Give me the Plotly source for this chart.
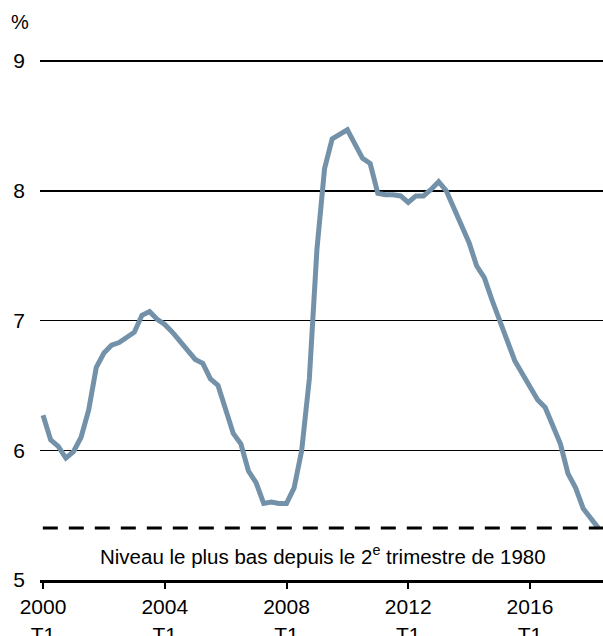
import plotly.graph_objects as go

# Quarterly periods 2000 T1 .. 2018 T2
start_year = 2000
n_quarters = 74
quarters = [f"{start_year + i // 4} T{i % 4 + 1}" for i in range(n_quarters)]

rate = [
    6.27, 6.08, 6.03, 5.94, 5.99, 6.10, 6.31, 6.64, 6.75, 6.81,
    6.83, 6.87, 6.91, 7.04, 7.07, 7.01, 6.97, 6.91, 6.84, 6.77,
    6.70, 6.67, 6.55, 6.50, 6.30, 6.13, 6.05, 5.84, 5.75, 5.59,
    5.60, 5.59, 5.59, 5.71, 6.00, 6.55, 7.55, 8.17, 8.40, 8.44,
    8.47, 8.36, 8.25, 8.21, 7.98, 7.97, 7.97, 7.96, 7.91, 7.96,
    7.96, 8.01, 8.07, 8.00, 7.86, 7.72, 7.60, 7.42, 7.33, 7.16,
    7.01, 6.85, 6.69, 6.59, 6.48, 6.39, 6.33, 6.19, 6.05, 5.82,
    5.71, 5.55, 5.48, 5.40,
]

record_low = 5.4
record_low_label = "Niveau le plus bas depuis le 2<sup>e</sup> trimestre de 1980"

tick_years = [2000, 2004, 2008, 2012, 2016]
tick_labels = [f"{y}<br>T1" for y in tick_years]
tick_idx = [quarters.index(f"{y} T1") for y in tick_years]

y_ticks = [5, 6, 7, 8, 9]

x_idx = list(range(n_quarters))

FONT = "Liberation Sans, Arial, sans-serif"

fig = go.Figure()
fig.add_trace(go.Scatter(
    x=x_idx, y=rate, mode="lines",
    line=dict(color="#7391a8", width=5),
    hoverinfo="skip", showlegend=False,
))

fig.add_shape(
    type="line", xref="paper", yref="y",
    x0=0.005, x1=1, y0=record_low, y1=record_low,
    line=dict(color="black", width=3, dash="15px,11px"),
)

fig.add_annotation(
    xref="paper", yref="y", x=0.503, y=5.19,
    text=record_low_label, showarrow=False,
    font=dict(family=FONT, size=20.5, color="black"),
    xanchor="center", yanchor="middle",
)

fig.add_annotation(
    xref="paper", yref="paper", x=-0.036, y=1.073,
    text="%", showarrow=False,
    font=dict(family=FONT, size=20, color="black"),
    xanchor="center", yanchor="middle",
)

fig.update_layout(
    width=603, height=636,
    margin=dict(l=40, r=0, t=60, b=56, autoexpand=False),
    paper_bgcolor="white", plot_bgcolor="white",
    font=dict(family=FONT, size=21, color="black"),
    showlegend=False,
)

fig.update_xaxes(
    range=[-0.4, 73.6],
    tickvals=tick_idx, ticktext=tick_labels,
    showgrid=False, zeroline=False, automargin=False,
    showline=True, linecolor="black", linewidth=3,
    ticks="outside", ticklen=6, tickwidth=2, tickcolor="black",
    tickfont=dict(family=FONT, size=21, color="black"),
)

fig.update_yaxes(
    range=[5, 9.008], automargin=False,
    tickvals=y_ticks, ticktext=[str(v) for v in y_ticks],
    showgrid=True, gridcolor="black", gridwidth=1.5,
    zeroline=False, showline=False, ticks="",
    ticklabelstandoff=14,
    tickfont=dict(family=FONT, size=21, color="black"),
)

fig.write_html(
    "out.html",
    config={"displayModeBar": False, "staticPlot": True},
    post_script="document.body.style.margin='0';document.body.style.overflow='hidden';",
)
